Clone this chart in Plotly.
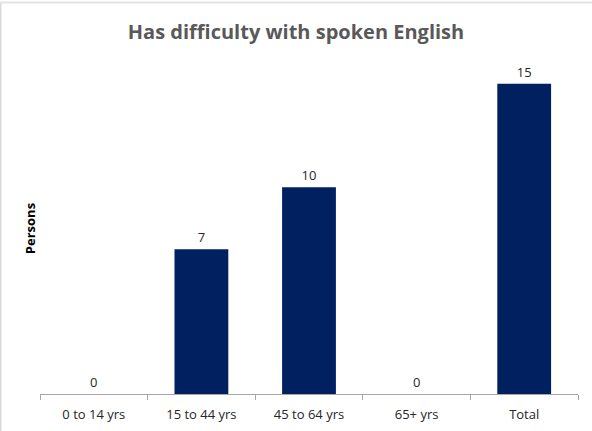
import plotly.graph_objects as go

categories = ["0 to 14 yrs", "15 to 44 yrs", "45 to 64 yrs", "65+ yrs", "Total"]
values = [0, 7, 10, 0, 15]
title_text = "Has difficulty with spoken English"
y_title = "Persons"

W, H = 592, 431
ml, mr, mt, mb = 40, 14, 63, 37
pw, ph = W - ml - mr, H - mt - mb

def px_x(p):
    return (p - ml) / pw

def px_y(p):
    return (H - mb - p) / ph

fig = go.Figure(go.Bar(
    x=categories, y=values,
    marker=dict(color="#002060", line=dict(width=0)),
    width=0.5,
    text=[str(v) for v in values],
    textposition="outside",
    textfont=dict(family="Open Sans, sans-serif", size=13, color="#262626"),
    cliponaxis=False,
))

fig.update_layout(
    width=W, height=H,
    margin=dict(l=ml, r=mr, t=mt, b=mb, autoexpand=False),
    paper_bgcolor="white", plot_bgcolor="white",
    showlegend=False,
    title=dict(text="<b>" + title_text + "</b>", x=0.5, xref="container", xanchor="center",
               y=1 - 32 / H, yanchor="middle", yref="container",
               font=dict(family="Open Sans, sans-serif", size=20, color="#595959")),
    xaxis=dict(showline=True, linecolor="#a6a6a6", linewidth=1, automargin=False,
               ticks="outside", tickson="boundaries", ticklen=5, tickcolor="#a6a6a6",
               ticklabelstandoff=8,
               tickfont=dict(family="Open Sans, sans-serif", size=13, color="#262626"),
               showgrid=False, zeroline=False),
    yaxis=dict(range=[0, 16], showticklabels=False, showgrid=False, zeroline=False,
               showline=False, ticks="", automargin=False,
               title=dict(text="<b>" + y_title + "</b>", standoff=0,
                          font=dict(family="Open Sans, sans-serif", size=13, color="black"))),
    shapes=[
        dict(type="line", xref="paper", yref="paper",
             x0=px_x(0.75), x1=px_x(0.75), y0=px_y(H), y1=px_y(2),
             line=dict(color="#d9d9d9", width=1.5)),
        dict(type="line", xref="paper", yref="paper",
             x0=px_x(0), x1=px_x(W), y0=px_y(2.5), y1=px_y(2.5),
             line=dict(color="#e3e3e3", width=2)),
    ],
)

fig.write_html("out.html", config={"displayModeBar": False},
               post_script="document.body.style.margin='0';document.body.style.overflow='hidden';")
